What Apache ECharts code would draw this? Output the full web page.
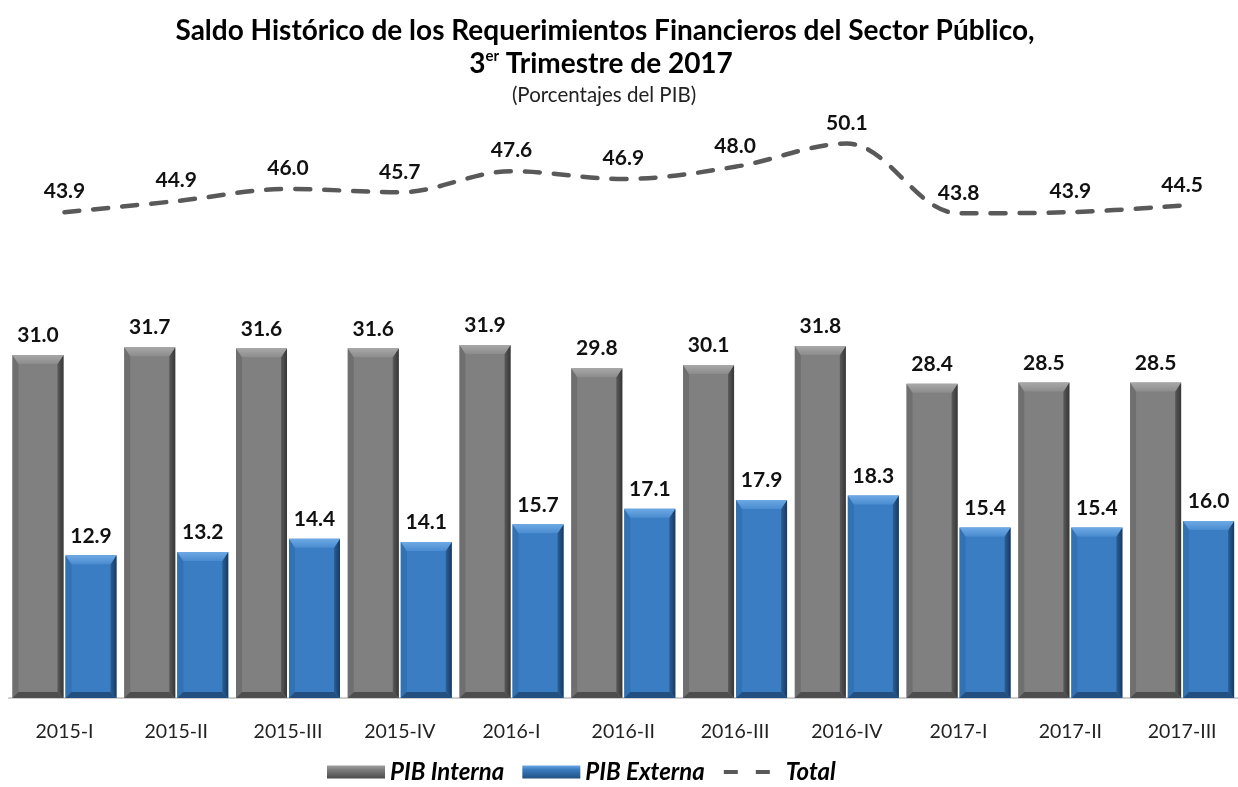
<!DOCTYPE html>
<html>
<head>
<meta charset="utf-8">
<script src="https://cdn.jsdelivr.net/npm/echarts@6/dist/echarts.min.js"></script>
<style>
	html, body { margin: 0; padding: 0; background: #fff; }
	#main { width: 1238px; height: 787px; }
</style>
</head>
<body>
<div id="main"></div>
<script>
var categories = ['2015-I', '2015-II', '2015-III', '2015-IV', '2016-I', '2016-II', '2016-III', '2016-IV', '2017-I', '2017-II', '2017-III'];
var pibInterna = [31.0, 31.7, 31.6, 31.6, 31.9, 29.8, 30.1, 31.8, 28.4, 28.5, 28.5];
var pibExterna = [12.9, 13.2, 14.4, 14.1, 15.7, 17.1, 17.9, 18.3, 15.4, 15.4, 16.0];
var total = [43.9, 44.9, 46.0, 45.7, 47.6, 46.9, 48.0, 50.1, 43.8, 43.9, 44.5];

var FONT = 'Lato, "Open Sans", sans-serif';
var LABEL_FONT = 'bold 21px Lato, "Open Sans", sans-serif';

function grad(x2, y2, stops) {
	return new echarts.graphic.LinearGradient(0, 0, x2, y2, stops.map(function (c) {
		return { offset: c[0], color: c[1] };
	}));
}

// colores del bisel: cuerpo, arriba, izquierda, derecha, abajo
var palettes = {
	gray: { body: '#808080', top: ['#a8a8a8', '#8c8c8c'], left: '#6f6f6f', right: ['#5a5a5a', '#363636'], bottom: '#4e4e4e',
		legend: grad(0, 1, [[0, '#a0a0a0'], [0.3, '#7f7f7f'], [1, '#4a4a4a']]) },
	blue: { body: '#3a7dc2', top: ['#6ea9e4', '#4a8cd0'], left: '#3271b2', right: ['#2a5f98', '#183a60'], bottom: '#224f80',
		legend: grad(0, 1, [[0, '#6aa6e2'], [0.3, '#3a7dc2'], [1, '#224f80']]) }
};

function bevelBar(pal, offset) {
	return function (params, api) {
		var idx = api.value(0);
		var val = api.value(1);
		var top = api.coord([idx, val]);
		var base = api.coord([idx, 0]);
		var w = 51;
		var x0 = top[0] + offset - w / 2, x1 = x0 + w;
		var y0 = top[1], yb = base[1];
		var bt = 9, bs = 6;
		return {
			type: 'group',
			children: [
				{ type: 'rect', shape: { x: x0, y: y0, width: w, height: yb - y0 }, style: { fill: pal.body } },
				{ type: 'polygon', shape: { points: [[x0, y0], [x0 + bs, y0 + bt], [x0 + bs, yb - bs], [x0, yb]] }, style: { fill: pal.left } },
				{ type: 'polygon', shape: { points: [[x1, y0], [x1 - bs, y0 + bt], [x1 - bs, yb - bs], [x1, yb]] },
					style: { fill: grad(1, 0, [[0, pal.right[0]], [1, pal.right[1]]]) } },
				{ type: 'polygon', shape: { points: [[x0, yb], [x0 + bs, yb - bs], [x1 - bs, yb - bs], [x1, yb]] }, style: { fill: pal.bottom } },
				{ type: 'polygon', shape: { points: [[x0, y0], [x1, y0], [x1 - bs, y0 + bt], [x0 + bs, y0 + bt]] },
					style: { fill: grad(0, 1, [[0, pal.top[0]], [1, pal.top[1]]]) } },
				{ type: 'text', style: { text: val.toFixed(1), x: x0 + w / 2, y: y0 - 9, align: 'center', verticalAlign: 'bottom', font: LABEL_FONT, fill: '#111' } }
			]
		};
	};
}

function pairs(arr) {
	return arr.map(function (v, i) { return [i, v]; });
}

var chart = echarts.init(document.getElementById('main'));
var option = {
	backgroundColor: '#fff',
	animation: false,
	title: [{
		text: 'Saldo Histórico de los Requerimientos Financieros del Sector Público,',
		left: 600,
		textAlign: 'center',
		top: 12,
		textStyle: { fontFamily: FONT, fontWeight: 'bold', fontSize: 28, color: '#000' }
	}, {
		text: '3{sup|er} Trimestre de 2017',
		left: 596,
		textAlign: 'center',
		top: 44,
		textStyle: {
			fontFamily: FONT, fontWeight: 'bold', fontSize: 28, color: '#000',
			rich: { sup: { fontFamily: FONT, fontWeight: 'bold', fontSize: 15, color: '#000', verticalAlign: 'top', padding: [0, 0, 14, 0] } }
		}
	}, {
		text: '(Porcentajes del PIB)',
		left: 599,
		textAlign: 'center',
		top: 80,
		textStyle: { fontFamily: FONT, fontWeight: 'normal', fontSize: 20.5, color: '#222' }
	}],
	legend: {
		top: 755,
		left: 322,
		itemWidth: 58,
		itemHeight: 13,
		itemGap: 18,
		textStyle: { fontFamily: FONT, fontWeight: 'bold', fontStyle: 'italic', fontSize: 24, color: '#000' },
		data: [
			{ name: 'PIB Interna', icon: 'rect', itemStyle: { color: palettes.gray.legend } },
			{ name: 'PIB Externa', icon: 'rect', itemStyle: { color: palettes.blue.legend } },
			{ name: 'Total', icon: 'path://M0,0H0.05V0.05H0Z M57.95,12.95H58V13H57.95Z M1,4.5H15V8.5H1Z M33,4.5H47V8.5H33Z', itemStyle: { color: '#595959' } }
		]
	},
	grid: { left: 8.6, width: 1241, top: 34, bottom: 89 },
	xAxis: {
		type: 'category',
		data: categories,
		axisLine: { lineStyle: { color: '#bfbfbf', width: 1.5 } },
		axisTick: { show: false },
		axisLabel: { margin: 24, fontFamily: FONT, fontSize: 19.5, color: '#222' }
	},
	yAxis: {
		type: 'value',
		min: 0,
		max: 60,
		show: false,
		splitLine: { show: false }
	},
	series: [{
		name: 'PIB Interna',
		type: 'custom',
		data: pairs(pibInterna),
		encode: { x: 0, y: 1 },
		itemStyle: { color: palettes.gray.legend },
		renderItem: bevelBar(palettes.gray, -26.5)
	}, {
		name: 'PIB Externa',
		type: 'custom',
		data: pairs(pibExterna),
		encode: { x: 0, y: 1 },
		itemStyle: { color: palettes.blue.legend },
		renderItem: bevelBar(palettes.blue, 26.5)
	}, {
		name: 'Total línea',
		type: 'line',
		smooth: 0.35,
		data: total,
		symbol: 'none',
		lineStyle: { color: '#595959', width: 4.5, type: [15, 14], cap: 'round' },
		itemStyle: { color: '#595959' }
	}, {
		// solo la entrada de la leyenda
		name: 'Total',
		type: 'custom',
		data: [],
		itemStyle: { color: '#595959' },
		renderItem: function () { return null; }
	}, {
		name: 'Total etiquetas',
		type: 'scatter',
		data: total,
		symbolSize: 0,
		silent: true,
		itemStyle: { opacity: 1 },
		label: {
			show: true,
			position: 'top',
			distance: 10,
			color: '#111',
			fontFamily: FONT,
			fontWeight: 'bold',
			fontSize: 21,
			formatter: function (p) { return p.value.toFixed(1); }
		}
	}]
};
chart.setOption(option);
</script>
</body>
</html>
